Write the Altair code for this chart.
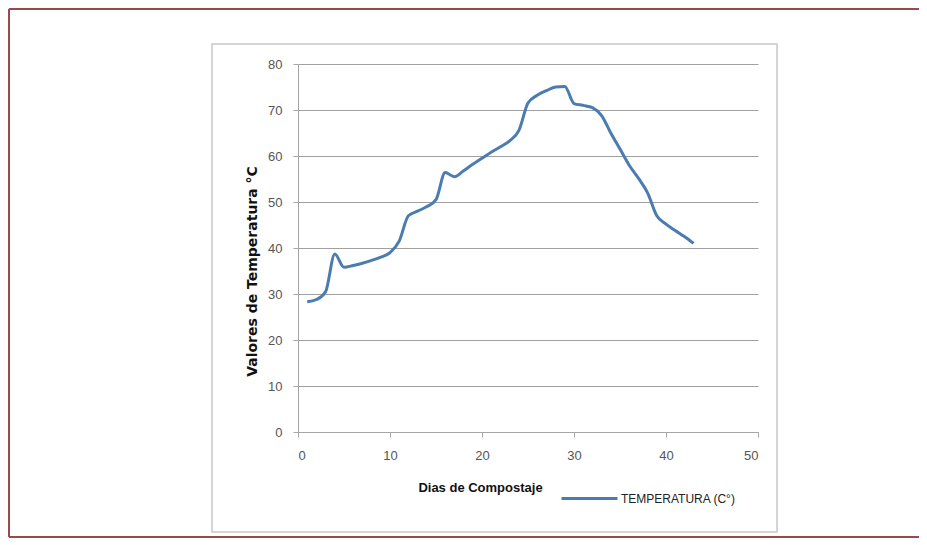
import altair as alt
import pandas as pd

days = list(range(1, 44))
temps = [28.3, 28.8, 30.5, 38.7, 35.8, 36.2, 36.7, 37.3, 38.0, 39.0,
         41.5, 47.0, 48.0, 49.0, 50.5, 56.4, 55.5, 56.8, 58.2, 59.5,
         60.8, 62.0, 63.3, 65.5, 71.5, 73.2, 74.2, 75.0, 75.1, 71.4,
         71.0, 70.5, 68.8, 65.0, 61.5, 58.0, 55.2, 52.0, 47.0, 45.2,
         43.8, 42.5, 41.0]
series_name = "TEMPERATURA (C°)"
x_ticks = [0, 10, 20, 30, 40, 50]
y_ticks = [0, 10, 20, 30, 40, 50, 60, 70, 80]

df = pd.DataFrame({"dia": days, "temp": temps, "serie": series_name})
frame_df = pd.DataFrame({"k": [0]})

W, H = 460, 368
PL, PT, PR, PB = 290, 56, 161, 107
RED = "#9b4a4a"

top_rule = alt.Chart(frame_df).mark_rule(color=RED, strokeWidth=2).encode(
    x=alt.value(-289), x2=alt.value(W + PR), y=alt.value(-55))
left_rule = alt.Chart(frame_df).mark_rule(color=RED, strokeWidth=2).encode(
    x=alt.value(-289), y=alt.value(-55), y2=alt.value(H + PB - 2))
bottom_rule = alt.Chart(frame_df).mark_rule(color=RED, strokeWidth=2).encode(
    x=alt.value(-289), x2=alt.value(W + PR), y=alt.value(H + PB - 2))
inner = alt.Chart(frame_df).mark_rect(fill="transparent", stroke="#c8c8c8", strokeWidth=1.5).encode(
    x=alt.value(-86), x2=alt.value(479),
    y=alt.value(-20), y2=alt.value(H + 100),
)

FONT = "Liberation Sans"

line = alt.Chart(df).mark_line(strokeWidth=3, interpolate="monotone").encode(
    x=alt.X("dia:Q", scale=alt.Scale(domain=[0, 50], nice=False),
            axis=alt.Axis(values=x_ticks, title="Dias de Compostaje", grid=False,
                          domainColor="#a6a6a6", tickColor="#a6a6a6", tickSize=5,
                          labelPadding=12, labelFont=FONT, labelFontSize=13,
                          labelColor="#555555", titleFont=FONT,
                          titleFontSize=13, titleFontWeight="bold", titleColor="#111111",
                          titleX=182, titleY=55, titleAlign="center", titleBaseline="middle")),
    y=alt.Y("temp:Q", scale=alt.Scale(domain=[0, 80], nice=False),
            axis=alt.Axis(values=y_ticks, title="Valores de Temperatura °C", grid=True,
                          gridColor="#a0a0a0", gridWidth=1,
                          domainColor="#a6a6a6", tickColor="#a6a6a6", tickSize=5,
                          labelPadding=11, labelFont=FONT, labelFontSize=13,
                          labelColor="#555555", titleFont="DejaVu Sans",
                          titleFontSize=14, titleFontWeight="bold", titleColor="#111111",
                          titleX=-46, titleY=207, titleAlign="center", titleBaseline="middle")),
    color=alt.Color("serie:N", scale=alt.Scale(domain=[series_name], range=["#4a7cb0"]),
                    legend=alt.Legend(title=None, orient="none", legendX=262, legendY=405,
                                      symbolType="stroke", symbolSize=3136, symbolStrokeWidth=3,
                                      labelFont=FONT, labelFontSize=12,
                                      labelColor="#222222", labelOffset=2, padding=0)),
)

chart = alt.layer(top_rule, left_rule, bottom_rule, inner, line).properties(
    width=W, height=H,
    autosize=alt.AutoSizeParams(type="none"),
    padding={"left": PL, "top": PT, "right": PR, "bottom": PB},
).configure_view(stroke=None)

chart.save("out.html", embed_options={"renderer": "svg", "actions": False})
